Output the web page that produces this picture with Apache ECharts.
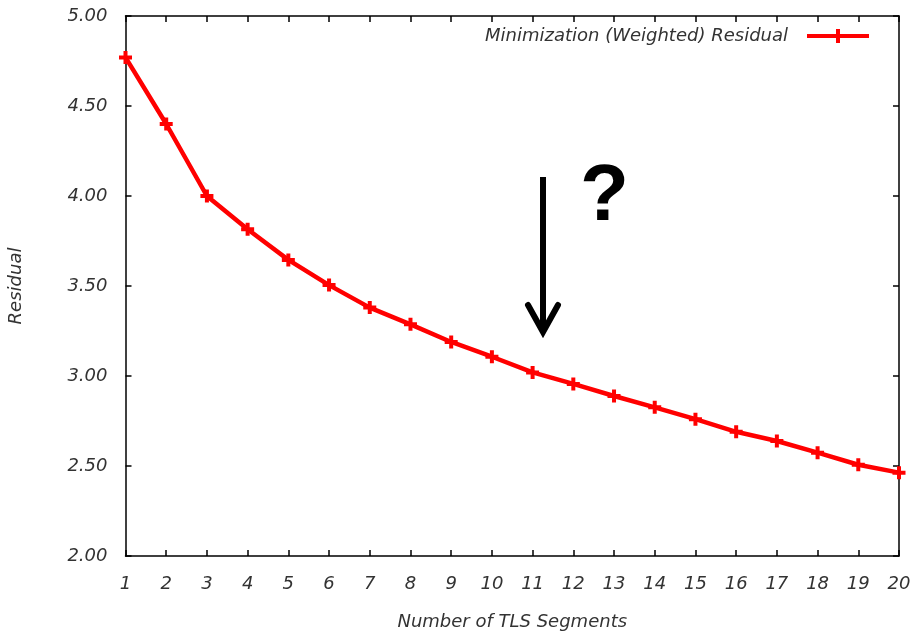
<!DOCTYPE html>
<html>
<head>
<meta charset="utf-8">
<script src="https://cdn.jsdelivr.net/npm/echarts@6/dist/echarts.min.js"></script>
<style>
  html, body { margin: 0; padding: 0; background: #fff; }
  #main { width: 912px; height: 633px; }
</style>
</head>
<body>
<div id="main"></div>
<script>
// 数据
var segments = [1, 2, 3, 4, 5, 6, 7, 8, 9, 10, 11, 12, 13, 14, 15, 16, 17, 18, 19, 20];
var residual = [4.77, 4.40, 4.00, 3.815, 3.645, 3.505, 3.38, 3.287, 3.189, 3.107,
  3.02, 2.956, 2.889, 2.826, 2.76, 2.69, 2.639, 2.574, 2.507, 2.463];
var seriesName = "Minimization (Weighted) Residual";

var plusPath = "path://M4.5,0H8.5V13H4.5Z M0,4.5H13V8.5H0Z";
var legendIcon = "path://M0,5H62V9H0Z M29,0H33V14H29Z";
var font = "DejaVu Sans";
var txt = { fontFamily: font, fontStyle: "italic", fontSize: 18, color: "#333" };

var chartDom = document.getElementById("main");
var myChart = echarts.init(chartDom);

var option = {
  animation: false,
  backgroundColor: "#fff",
  grid: {
    left: 125.5, right: 13, top: 16, bottom: 77,
    containLabel: false,
    outerBoundsMode: "none"
  },
  legend: {
    right: 38,
    top: 22,
    align: "right",
    itemWidth: 62,
    itemHeight: 14,
    itemGap: 0,
    icon: legendIcon,
    textStyle: Object.assign({}, txt, { padding: [0, 14, 0, 0] }),
    data: [{ name: seriesName, itemStyle: { color: "#ff0000" } }]
  },
  xAxis: [
    {
      type: "value",
      min: 1,
      max: 20,
      interval: 1,
      name: "Number of TLS Segments",
      nameLocation: "middle",
      nameGap: 57,
      nameTextStyle: txt,
      axisLine: { lineStyle: { color: "#000", width: 1.5 } },
      axisTick: { inside: true, length: 6, lineStyle: { color: "#000", width: 1.5 } },
      axisLabel: Object.assign({ margin: 19 }, txt),
      splitLine: { show: false }
    },
    {
      type: "value",
      position: "top",
      min: 1,
      max: 20,
      interval: 1,
      axisLine: { show: true, lineStyle: { color: "#000", width: 1.5 } },
      axisTick: { inside: true, length: 6, lineStyle: { color: "#000", width: 1.5 } },
      axisLabel: { show: false },
      splitLine: { show: false }
    }
  ],
  yAxis: [
    {
      type: "value",
      min: 2,
      max: 5,
      interval: 0.5,
      name: "Residual",
      nameLocation: "middle",
      nameGap: 100,
      nameTextStyle: txt,
      axisLine: { show: true, lineStyle: { color: "#000", width: 1.5 } },
      axisTick: { show: true, inside: true, length: 6, lineStyle: { color: "#000", width: 1.5 } },
      axisLabel: Object.assign({
        margin: 18,
        formatter: function (v) { return v.toFixed(2); }
      }, txt),
      splitLine: { show: false }
    },
    {
      type: "value",
      position: "right",
      min: 2,
      max: 5,
      interval: 0.5,
      axisLine: { show: true, lineStyle: { color: "#000", width: 1.5 } },
      axisTick: { show: true, inside: true, length: 6, lineStyle: { color: "#000", width: 1.5 } },
      axisLabel: { show: false },
      splitLine: { show: false }
    }
  ],
  series: [
    {
      name: seriesName,
      type: "line",
      data: segments.map(function (s, i) { return [s, residual[i]]; }),
      symbol: plusPath,
      symbolSize: 13,
      showAllSymbol: true,
      lineStyle: { color: "#ff0000", width: 4.5 },
      itemStyle: { color: "#ff0000" },
      z: 3
    }
  ],
  graphic: [
    // 箭头
    {
      type: "line",
      shape: { x1: 543, y1: 177, x2: 543, y2: 333 },
      style: { stroke: "#000", lineWidth: 6 }
    },
    {
      type: "polyline",
      shape: { points: [[528, 305], [543, 332], [558, 305]] },
      style: { stroke: "#000", lineWidth: 6, fill: null, lineJoin: "miter", lineCap: "round" }
    },
    {
      type: "text",
      left: 580,
      top: 158,
      style: {
        text: "?",
        font: "bold 80px 'Liberation Sans'",
        fill: "#000"
      }
    }
  ]
};

option && myChart.setOption(option);
</script>
</body>
</html>
